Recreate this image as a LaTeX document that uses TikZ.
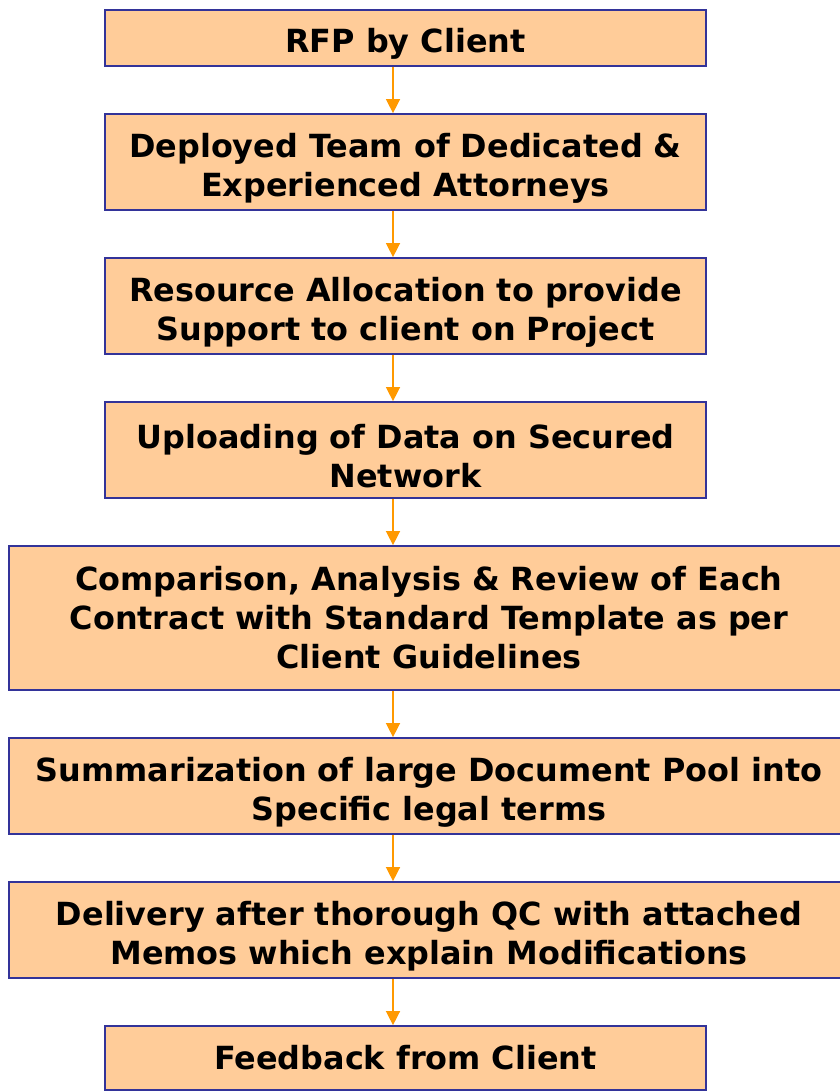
\documentclass[tikz,border=0pt]{standalone}
\usepackage{fontspec}
\setmainfont{DejaVu Sans}
\usetikzlibrary{arrows.meta}
\definecolor{boxfill}{HTML}{FFCC99}
\definecolor{boxline}{HTML}{333399}
\definecolor{floworange}{HTML}{FF9900}
\newcommand{\lift}{\rule{0pt}{27pt}}
\tikzset{
  stagebox/.style={draw=boxline, fill=boxfill, line width=1.3pt, inner sep=0pt,
    align=center, font=\fontsize{23.9}{29.25}\selectfont\bfseries},
  narrowbox/.style={stagebox, minimum width=450.75pt},
  widebox/.style={stagebox, minimum width=630pt},
  flow/.style={-{Triangle[width=10.5pt,length=10.5pt]}, draw=floworange, fill=floworange, line width=1.1pt}
}
\begin{document}
\begin{tikzpicture}[x=0.75pt, y=-0.75pt]
        \useasboundingbox (0,0) rectangle (839,1091);

        % Process boxes
        \node[narrowbox, minimum height=42pt] (rfp) at (405.5,38) {\lift RFP by Client};
        \node[narrowbox, minimum height=72pt] (team) at (405.5,162) {\lift Deployed Team of Dedicated \&\\Experienced Attorneys};
        \node[narrowbox, minimum height=72pt] (alloc) at (405.5,306) {\lift Resource Allocation to provide\\Support to client on Project};
        \node[narrowbox, minimum height=72pt] (upload) at (405.5,450) {\lift Uploading of Data on Secured\\Network};
        \node[widebox, minimum height=108pt] (review) at (429,618) {Comparison, Analysis \& Review of Each\\Contract with Standard Template as per\\Client Guidelines};
        \node[widebox, minimum height=72pt] (summary) at (429,786) {\lift Summarization of large Document Pool into\\Specific legal terms};
        \node[widebox, minimum height=72pt] (delivery) at (429,930) {\lift Delivery after thorough QC with attached\\Memos which explain Modifications};
        \node[narrowbox, minimum height=48pt] (feedback) at (405.5,1058) {Feedback from Client};

        % Flow arrows
        \coordinate (axis) at (393,0);
        \draw[flow] (rfp.south -| axis) -- (team.north -| axis);
        \draw[flow] (team.south -| axis) -- (alloc.north -| axis);
        \draw[flow] (alloc.south -| axis) -- (upload.north -| axis);
        \draw[flow] (upload.south -| axis) -- (review.north -| axis);
        \draw[flow] (review.south -| axis) -- (summary.north -| axis);
        \draw[flow] (summary.south -| axis) -- (delivery.north -| axis);
        \draw[flow] (delivery.south -| axis) -- (feedback.north -| axis);
    \end{tikzpicture}
\end{document}
